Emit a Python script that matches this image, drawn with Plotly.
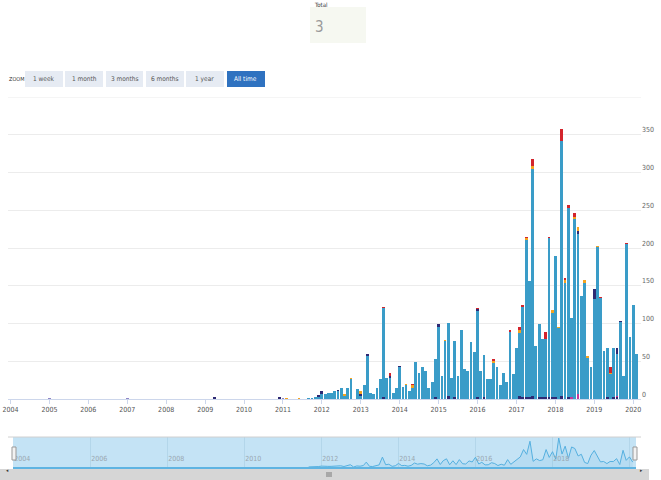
import pandas as pd
import plotly.graph_objects as go

W, H = 661, 480
FONT = "DejaVu Sans Condensed, Liberation Sans Narrow, Arial Narrow, sans-serif"

# ---------------- data (monthly) ----------------
months = pd.date_range("2011-09-01", "2020-02-01", freq="MS")

total = [1, 1, 3, 5,
         11, 6, 8, 8, 10, 12, 15, 6, 15, 28, 0, 13,
         10, 18, 60, 8, 6, 15, 26, 122, 28, 34, 8, 15,
         44, 16, 20, 10, 20, 49, 35, 42, 37, 15, 23, 53,
         100, 31, 78, 101, 28, 77, 30, 91, 40, 37, 75, 62,
         120, 37, 58, 26, 27, 53, 43, 18, 34, 22, 91, 33,
         68, 95, 124, 215, 156, 318, 70, 100, 79, 89, 215, 118,
         189, 95, 357, 160, 257, 107, 247, 228, 136, 157, 57, 42,
         146, 203, 135, 63, 68, 42, 68, 67, 103, 31, 206, 82,
         125, 60]

blue = [1, 1, 3, 3,
        6, 6, 8, 8, 10, 10, 15, 4, 15, 26, 0, 13,
        4, 18, 57, 8, 6, 15, 26, 118, 28, 28, 8, 15,
        42, 16, 19, 10, 15, 49, 35, 42, 37, 15, 23, 51,
        95, 31, 77, 97, 28, 75, 30, 91, 40, 37, 75, 62,
        113, 37, 56, 26, 27, 48, 43, 18, 34, 22, 89, 33,
        68, 83, 119, 208, 154, 300, 70, 98, 76, 76, 211, 112,
        186, 94, 338, 153, 251, 105, 238, 213, 136, 154, 54, 42,
        133, 201, 134, 63, 66, 33, 64, 56, 102, 31, 205, 82,
        125, 60]

navy_base_months = ["2013-08", "2014-12", "2015-04", "2015-06", "2016-01", "2016-03",
                    "2017-02", "2017-03", "2017-04", "2017-05", "2017-06", "2017-08",
                    "2017-09", "2017-10", "2017-11", "2017-12", "2018-01", "2018-03",
                    "2018-05", "2019-05", "2019-07", "2019-08"]
navy_base_vals = [2, 2, 4, 2, 3, 2, 4, 3, 3, 2, 4, 2, 3, 3, 2, 2, 3, 4, 2, 2, 3, 2]

pink_months = ["2018-06", "2018-08", "2019-08"]
pink_vals = [2, 6, 2]

navy_top_months = ["2009-04", "2010-12", "2011-12", "2012-01", "2012-06", "2013-01",
                   "2013-03", "2013-10", "2014-01", "2015-01", "2016-01", "2018-08",
                   "2019-01", "2019-08", "2019-09"]
navy_top_vals = [2, 2, 2, 5, 2, 3, 2, 2, 2, 5, 3, 3, 13, 7, 1]

lavender_months = ["2005-01", "2007-01", "2011-01"]
lavender_vals = [1, 1, 1]

orange_months = ["2011-02", "2011-06", "2012-08", "2012-10", "2013-01", "2014-03",
                 "2014-05", "2015-03", "2016-06", "2017-02", "2017-04", "2017-06",
                 "2017-12", "2018-02", "2018-04", "2018-07", "2018-08", "2018-10",
                 "2018-11", "2019-02", "2019-06", "2019-07"]
orange_vals = [1, 1, 2, 2, 3, 1, 3, 1, 2, 5, 2, 4, 4, 1, 4, 3, 6, 3, 3, 2, 2, 1]

red_months = ["2013-03", "2013-08", "2013-10", "2014-05", "2016-01", "2016-06",
              "2016-11", "2017-02", "2017-03", "2017-04", "2017-06", "2017-10",
              "2017-11", "2018-03", "2018-04", "2018-05", "2018-07", "2019-03",
              "2019-06", "2019-11"]
red_vals = [1, 2, 4, 2, 1, 3, 2, 3, 2, 2, 10, 10, 2, 15, 3, 4, 6, 1, 7, 1]

y_ticks = [0, 50, 100, 150, 200, 250, 300, 350]
zoom_buttons = ["1 week", "1 month", "3 months", "6 months", "1 year", "All time"]
box_value = "3"

# ---------------- helpers ----------------
def px(x):
    return x / W

def py(y):
    return 1 - y / H

def d(m):
    return m + "-01"

BAR_W = 26 * 86400000  # bar width in ms

fig = go.Figure()

series = [
    (navy_base_months, navy_base_vals, "#2e2a74"),
    (pink_months, pink_vals, "#c8399b"),
    (None, blue, "#3a9cc8"),
    (navy_top_months, navy_top_vals, "#2e2a74"),
    (lavender_months, lavender_vals, "#8e86c8"),
    (orange_months, orange_vals, "#f5a31f"),
    (red_months, red_vals, "#d3242c"),
]
for ms, vals, col in series:
    xs = list(months) if ms is None else [d(m) for m in ms]
    fig.add_trace(go.Bar(x=xs, y=vals, width=[BAR_W] * len(vals),
                         marker=dict(color=col, line=dict(width=0)),
                         xaxis="x", yaxis="y", showlegend=False,
                         hoverinfo="skip"))

# navigator series
fig.add_trace(go.Scatter(x=list(months), y=total, mode="lines",
                         line=dict(color="#55b0e0", width=1),
                         fill="tozeroy", fillcolor="rgba(85,176,224,0.12)",
                         xaxis="x2", yaxis="y2", showlegend=False,
                         hoverinfo="skip"))

main_dom_x = [px(8), px(641)]
main_dom_y = [py(399), py(97)]
nav_dom_x = [px(13), px(636)]
nav_dom_y = [py(467), py(437)]

fig.update_layout(
    width=W, height=H,
    margin=dict(l=0, r=0, t=0, b=0, autoexpand=False),
    paper_bgcolor="white",
    plot_bgcolor="rgba(0,0,0,0)",
    barmode="stack",
    bargap=0,
    hovermode=False,
    font=dict(family=FONT, size=8, color="#666666"),
    xaxis=dict(domain=main_dom_x, anchor="y", type="date", automargin=False,
               range=["2003-12-09", "2020-03-14"],
               tick0="2004-01-01", dtick="M12", tickformat="%Y",
               showgrid=False, zeroline=False,
               showline=True, linecolor="#ccd6eb", linewidth=1,
               ticks="outside", ticklen=4, tickcolor="#ccd6eb",
               tickfont=dict(family=FONT, size=7, color="#555555")),
    yaxis=dict(domain=main_dom_y, anchor="x", side="right", automargin=False,
               range=[0, 400], tickvals=y_ticks,
               ticktext=[str(v) for v in y_ticks],
               showgrid=True, gridcolor="#ececec", gridwidth=1,
               zeroline=False, showline=False, ticks="",
               ticklabelposition="outside top",
               tickfont=dict(family=FONT, size=7, color="#666666")),
    xaxis2=dict(domain=nav_dom_x, anchor="y2", type="date", automargin=False,
                range=["2003-12-27", "2020-03-03"],
                tick0="2004-01-01", dtick="M24", tickformat="%Y",
                showgrid=True, gridcolor="#b3d6ea", gridwidth=1,
                zeroline=False, showline=True, linecolor="#5fb4e2",
                linewidth=1.5, ticks="",
                ticklabelposition="inside right",
                tickfont=dict(family=FONT, size=7, color="#9aa7b0")),
    yaxis2=dict(domain=nav_dom_y, anchor="x2", range=[0, 370], automargin=False,
                visible=False, showgrid=False, zeroline=False),
)

shapes = []
annots = []

# top gridline at 400
shapes.append(dict(type="line", xref="paper", yref="y", x0=px(8), x1=px(641),
                   y0=400, y1=400, line=dict(color="#ececec", width=1), layer="below"))

# top info box
shapes.append(dict(type="rect", xref="paper", yref="paper",
                   x0=px(310), x1=px(366), y0=py(43), y1=py(7),
                   fillcolor="#f6f8f1", line=dict(width=0), layer="below"))
annots.append(dict(text="Total", x=px(312), y=py(5), xref="paper", yref="paper",
                   xanchor="left", yanchor="middle", showarrow=False,
                   font=dict(family=FONT, size=6, color="#333333")))
annots.append(dict(text=box_value, x=px(313), y=py(27), xref="paper", yref="paper",
                   xanchor="left", yanchor="middle", showarrow=False,
                   font=dict(family=FONT, size=15, color="#9a9a9a")))

# zoom label + buttons
annots.append(dict(text="ZOOM", x=px(7), y=py(79), xref="paper", yref="paper",
                   xanchor="left", yanchor="middle", showarrow=False,
                   font=dict(family=FONT, size=5.5, color="#333333")))
btn_x = [(25, 63), (65, 103), (106, 143), (146, 184), (186, 224), (227, 265)]
for i, (lab, (x0, x1)) in enumerate(zip(zoom_buttons, btn_x)):
    sel = i == len(zoom_buttons) - 1
    shapes.append(dict(type="rect", xref="paper", yref="paper",
                       x0=px(x0), x1=px(x1), y0=py(87), y1=py(71),
                       fillcolor="#2f72c0" if sel else "#e6ebf3",
                       line=dict(width=0), layer="below"))
    annots.append(dict(text=lab, x=px((x0 + x1) / 2), y=py(79),
                       xref="paper", yref="paper", xanchor="center",
                       yanchor="middle", showarrow=False,
                       font=dict(family=FONT, size=6.5,
                                 color="white" if sel else "#555555")))

# navigator mask & outline
shapes.append(dict(type="rect", xref="paper", yref="paper",
                   x0=nav_dom_x[0], x1=nav_dom_x[1], y0=nav_dom_y[0], y1=nav_dom_y[1],
                   fillcolor="#c4e3f5", line=dict(width=0), layer="below"))
shapes.append(dict(type="line", xref="paper", yref="paper",
                   x0=px(8), x1=px(641), y0=py(437), y1=py(437),
                   line=dict(color="#d0d0d0", width=1)))
# navigator handles
for hx in (12, 633):
    shapes.append(dict(type="rect", xref="paper", yref="paper",
                       x0=px(hx), x1=px(hx + 4), y0=py(460), y1=py(447),
                       fillcolor="#f2f2f2", line=dict(color="#999999", width=1)))

# scrollbar
shapes.append(dict(type="rect", xref="paper", yref="paper",
                   x0=0, x1=px(649), y0=py(480), y1=py(469),
                   fillcolor="#d6d6d6", line=dict(width=0)))
for gx in (327, 329, 331):
    shapes.append(dict(type="line", xref="paper", yref="paper",
                       x0=px(gx), x1=px(gx), y0=py(477), y1=py(472),
                       line=dict(color="#555555", width=0.7)))
annots.append(dict(text="◂", x=px(4), y=py(474.5), xref="paper", yref="paper",
                   showarrow=False, font=dict(size=5, color="#333333")))
annots.append(dict(text="▸", x=px(645), y=py(474.5), xref="paper", yref="paper",
                   showarrow=False, font=dict(size=5, color="#333333")))

fig.update_layout(shapes=shapes, annotations=annots)

fig.write_html(
    "out.html",
    config={"displayModeBar": False, "staticPlot": True},
    post_script="document.body.style.margin='0';"
                "document.documentElement.style.overflow='hidden';"
                "document.body.style.overflow='hidden';",
)
